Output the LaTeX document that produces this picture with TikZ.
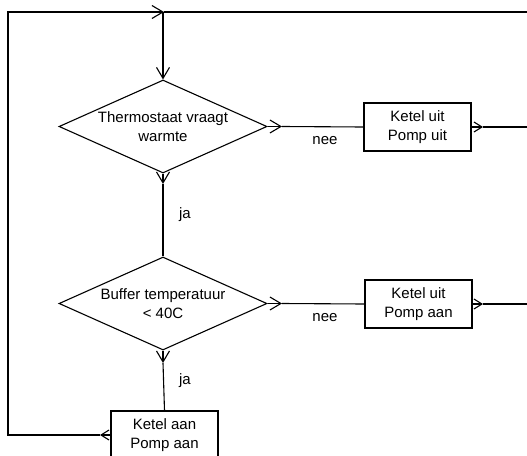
\documentclass[tikz,border=0pt]{standalone}
\usepackage{fontspec}
\setmainfont{Liberation Sans}
\usetikzlibrary{shapes.geometric,arrows.meta}
\begin{document}
\begin{tikzpicture}[x=1pt,y=-1pt,
  line width=1.1pt,
  txt/.style={font=\fontsize{15}{19}\selectfont},
  dia/.style={diamond,draw,aspect=2.24,minimum width=208pt,minimum height=93pt,inner sep=0pt,align=center,txt},
  box/.style={rectangle,draw,minimum width=107pt,minimum height=48pt,inner sep=0pt,align=center,txt},
  lbl/.style={txt,inner sep=0pt},
  tip/.style={-{Straight Barb[length=11pt,width=13pt,line width=1.1pt]}},
  stip/.style={-{Straight Barb[length=8pt,width=10pt,line width=1.1pt]}}
]
\useasboundingbox (0,0) rectangle (527,455);
\clip (0,0) rectangle (527,455);
\node[dia] (d1) at (163,126.5) {Thermostaat vraagt\\warmte};
\node[dia] (d2) at (163,303.5) {Buffer temperatuur\\< 40C};
\node[box] (b1) at (417.5,127) {Ketel uit\\Pomp uit};
\node[box] (b2) at (418.5,304) {Ketel uit\\Pomp aan};
\node[box] (b3) at (164.5,435) {Ketel aan\\Pomp aan};
\node[lbl] (n1) at (325,141) {nee};
\node[lbl] (n2) at (325,318) {nee};
\node[lbl] (j1) at (185,215) {ja};
\node[lbl] (j2) at (185,381) {ja};
\coordinate (j0) at (164,12);
\coordinate (m1) at (282,126.5);
\coordinate (m2) at (163,184);
\coordinate (m3) at (100,435);
\coordinate (m4) at (282,303.5);
\coordinate (m5) at (163,363);
\coordinate (r1) at (483,127);
\coordinate (r2) at (483,304);
\coordinate (c1) at (8,435);
\coordinate (c2) at (540,12);
% loop back from bottom box
\draw[stip] (b3.west) -- (m3);
\draw[tip] (m3) -- (c1) |- (j0);
\draw[tip] (163,12) -- (d1.north);
% thermostat
\draw[tip] (d1.east) -- (m1);
\draw (m1) -- (b1.west);
\draw[stip] (b1.east) -- (r1);
\draw (r1) -| (c2) -- (j0);
\draw[tip] (d1.south) -- (m2);
\draw (m2) -- (d2.north);
% buffer
\draw[tip] (d2.east) -- (m4);
\draw (m4) -- (b2.west);
\draw[stip] (b2.east) -- (r2);
\draw (r2) -| (c2);
\draw[tip] (d2.south) -- (m5);
\draw (m5) -- (b3.north);
\end{tikzpicture}
\end{document}
